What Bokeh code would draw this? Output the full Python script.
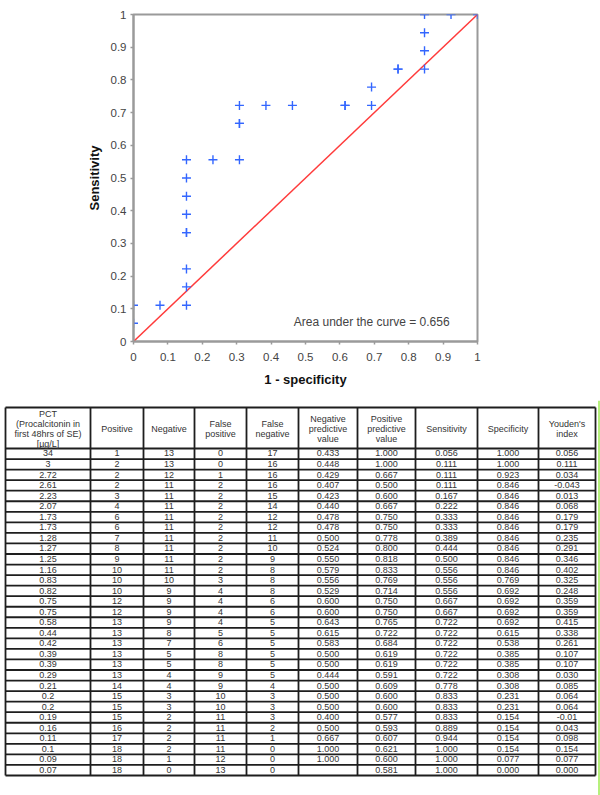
from bokeh.plotting import figure
from bokeh.models import Range1d, FixedTicker, CustomJSTickFormatter
from bokeh.core.properties import value
from bokeh.embed import file_html
from bokeh.resources import INLINE

# ---------------- data ----------------
pct = ["34", "3", "2.72", "2.61", "2.23", "2.07", "1.73", "1.73", "1.28", "1.27", "1.25", "1.16",
       "0.83", "0.82", "0.75", "0.75", "0.58", "0.44", "0.42", "0.39", "0.39", "0.29", "0.21",
       "0.2", "0.2", "0.19", "0.16", "0.11", "0.1", "0.09", "0.07"]
positive = ["1", "2", "2", "2", "3", "4", "6", "6", "7", "8", "9", "10", "10", "10", "12", "12", "13",
            "13", "13", "13", "13", "13", "14", "15", "15", "15", "16", "17", "18", "18", "18"]
negative = ["13", "13", "12", "11", "11", "11", "11", "11", "11", "11", "11", "11", "10", "9", "9", "9",
            "9", "8", "7", "5", "5", "4", "4", "3", "3", "2", "2", "2", "2", "1", "0"]
false_positive = ["0", "0", "1", "2", "2", "2", "2", "2", "2", "2", "2", "2", "3", "4", "4", "4", "4",
                  "5", "6", "8", "8", "9", "9", "10", "10", "11", "11", "11", "11", "12", "13"]
false_negative = ["17", "16", "16", "16", "15", "14", "12", "12", "11", "10", "9", "8", "8", "8", "6",
                  "6", "5", "5", "5", "5", "5", "5", "4", "3", "3", "3", "2", "1", "0", "0", "0"]
npv = ["0.433", "0.448", "0.429", "0.407", "0.423", "0.440", "0.478", "0.478", "0.500", "0.524",
       "0.550", "0.579", "0.556", "0.529", "0.600", "0.600", "0.643", "0.615", "0.583", "0.500",
       "0.500", "0.444", "0.500", "0.500", "0.500", "0.400", "0.500", "0.667", "1.000", "1.000", ""]
ppv = ["1.000", "1.000", "0.667", "0.500", "0.600", "0.667", "0.750", "0.750", "0.778", "0.800",
       "0.818", "0.833", "0.769", "0.714", "0.750", "0.750", "0.765", "0.722", "0.684", "0.619",
       "0.619", "0.591", "0.609", "0.600", "0.600", "0.577", "0.593", "0.607", "0.621", "0.600", "0.581"]
sensitivity = ["0.056", "0.111", "0.111", "0.111", "0.167", "0.222", "0.333", "0.333", "0.389",
               "0.444", "0.500", "0.556", "0.556", "0.556", "0.667", "0.667", "0.722", "0.722",
               "0.722", "0.722", "0.722", "0.722", "0.778", "0.833", "0.833", "0.833", "0.889",
               "0.944", "1.000", "1.000", "1.000"]
specificity = ["1.000", "1.000", "0.923", "0.846", "0.846", "0.846", "0.846", "0.846", "0.846",
               "0.846", "0.846", "0.846", "0.769", "0.692", "0.692", "0.692", "0.692", "0.615",
               "0.538", "0.385", "0.385", "0.308", "0.308", "0.231", "0.231", "0.154", "0.154",
               "0.154", "0.154", "0.077", "0.000"]
youden = ["0.056", "0.111", "0.034", "-0.043", "0.013", "0.068", "0.179", "0.179", "0.235", "0.291",
          "0.346", "0.402", "0.325", "0.248", "0.359", "0.359", "0.415", "0.338", "0.261", "0.107",
          "0.107", "0.030", "0.085", "0.064", "0.064", "-0.01", "0.043", "0.098", "0.154", "0.077",
          "0.000"]

headers = [["PCT", "(Procalcitonin in", "first 48hrs of SE)", "[\u00b5g/L]"],
           ["Positive"], ["Negative"], ["False", "positive"], ["False", "negative"],
           ["Negative", "predictive", "value"], ["Positive", "predictive", "value"],
           ["Sensitivity"], ["Specificity"], ["Youden's", "index"]]

ticks = [0, 0.1, 0.2, 0.3, 0.4, 0.5, 0.6, 0.7, 0.8, 0.9, 1]
chance_x = [0, 1]
chance_y = [0, 1]
auc_text = "Area under the curve = 0.656"

# ---------------- ROC figure ----------------
FONT = "Liberation Sans"
roc = figure(width=600, height=400, output_backend="svg", toolbar_location=None,
             x_range=Range1d(0, 1), y_range=Range1d(0, 1),
             min_border_left=133, min_border_right=123, min_border_top=14, min_border_bottom=59)
roc.grid.visible = False
roc.outline_line_color = "#9a9a9a"
roc.outline_line_width = 2
roc.background_fill_color = "white"
roc.border_fill_color = "white"

fmt = CustomJSTickFormatter(code="return String(Math.round(tick*10)/10);")
for ax in (roc.xaxis[0], roc.yaxis[0]):
    ax.ticker = FixedTicker(ticks=ticks)
    ax.formatter = fmt
    ax.axis_line_color = "#9a9a9a"
    ax.axis_line_width = 2
    ax.major_tick_line_color = "#9a9a9a"
    ax.major_tick_line_width = 1.5
    ax.major_tick_out = 3
    ax.major_tick_in = 0
    ax.minor_tick_line_color = None
    ax.major_label_text_font = FONT
    ax.major_label_text_font_size = "11.5px"
    ax.major_label_text_color = "#444444"
    ax.axis_label_text_font = FONT
    ax.axis_label_text_font_size = "13px"
    ax.axis_label_text_font_style = "bold"
    ax.axis_label_text_color = "#111111"

roc.xaxis.axis_label = "1 - specificity"
roc.yaxis.axis_label = "Sensitivity"
roc.xaxis.major_label_standoff = 8
roc.xaxis.axis_label_standoff = 8
roc.yaxis.major_label_standoff = 4
roc.yaxis.axis_label_standoff = 6

roc.line(chance_x, chance_y, line_color="#ff3b3b", line_width=1.5)

fpr = [1 - float(s) for s in specificity]
tpr = [float(s) for s in sensitivity]
roc.scatter(fpr, tpr, marker="cross", size=9, line_color="#3366ff", line_width=1.4)

roc.text(x=[0.466], y=[0.061], text=[auc_text], text_font=value(FONT), text_font_size="12px",
         text_color="#444444", text_baseline="middle", text_align="left")

# ---------------- table figure (pixel-like coordinates) ----------------
TOP = 400
H = 395
tbl = figure(width=600, height=H, output_backend="svg", toolbar_location=None,
             x_range=Range1d(0, 600), y_range=Range1d(TOP + H, TOP),
             x_axis_type=None, y_axis_type=None, min_border=0)
tbl.grid.visible = False
tbl.outline_line_color = None

col_edges = [5, 90, 143, 194, 246, 298, 357, 415, 477, 538, 595]
head_top = 407
head_bot = 448
row_h = (775 - head_bot) / len(pct)
table_bot = head_bot + row_h * len(pct)

hy = [head_top, head_bot] + [head_bot + row_h * (i + 1) for i in range(len(pct))]
tbl.segment(x0=[col_edges[0]] * len(hy), x1=[col_edges[-1]] * len(hy), y0=hy, y1=hy,
            line_color="#1e1e1e", line_width=1.8)
tbl.segment(x0=col_edges, x1=col_edges, y0=[head_top] * len(col_edges),
            y1=[table_bot] * len(col_edges), line_color="#1e1e1e", line_width=1.8)

hx, hyy, ht = [], [], []
center = (head_top + head_bot) / 2
for c, lines in enumerate(headers):
    cx = (col_edges[c] + col_edges[c + 1]) / 2
    n = len(lines)
    for i, t in enumerate(lines):
        hx.append(cx)
        hyy.append(center + (i - (n - 1) / 2) * 10 + 0.5)
        ht.append(t)
tbl.text(x=hx, y=hyy, text=ht, text_font=value(FONT), text_font_size="9px",
         text_color="#333333", text_align="center", text_baseline="middle")

columns = [pct, positive, negative, false_positive, false_negative, npv, ppv,
           sensitivity, specificity, youden]
bx, by, bt = [], [], []
for c, vals in enumerate(columns):
    cx = (col_edges[c] + col_edges[c + 1]) / 2
    for r, v in enumerate(vals):
        bx.append(cx)
        by.append(head_bot + row_h * (r + 0.5) - 0.3)
        bt.append(v)
tbl.text(x=bx, y=by, text=bt, text_font=value(FONT), text_font_size="9px",
         text_color="#333333", text_align="center", text_baseline="middle")

tbl.segment(x0=[598.5], x1=[598.5], y0=[TOP], y1=[TOP + H], line_color="#b6f07c", line_width=2)

open("out.html", "w").write(file_html([roc, tbl], INLINE))
